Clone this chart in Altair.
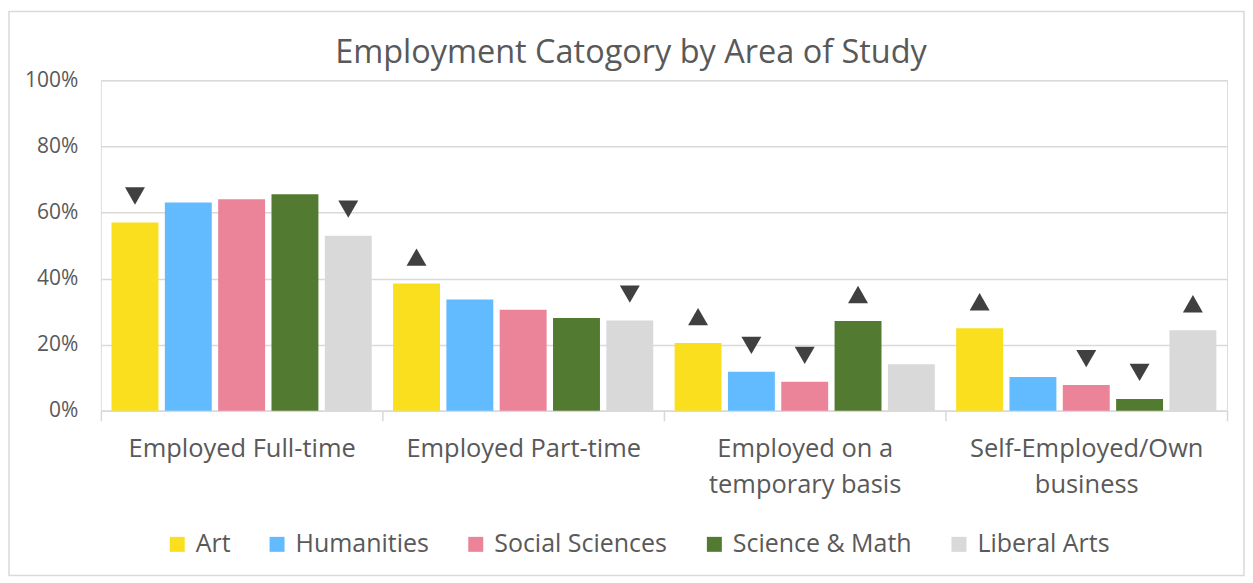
import altair as alt
import pandas as pd

categories = ["Employed Full-time", "Employed Part-time",
              "Employed on a temporary basis", "Self-Employed/Own business"]
series = ["Art", "Humanities", "Social Sciences", "Science & Math", "Liberal Arts"]

art = [57.0, 38.5, 20.5, 25.0]
humanities = [63.0, 33.7, 11.8, 10.2]
social_sciences = [64.0, 30.6, 8.8, 7.8]
science_math = [65.5, 28.1, 27.2, 3.6]
liberal_arts = [53.0, 27.3, 14.1, 24.4]

art_arrow = ["down", "up", "up", "up"]
humanities_arrow = ["", "", "down", ""]
social_sciences_arrow = ["", "", "down", "down"]
science_math_arrow = ["", "", "up", "down"]
liberal_arts_arrow = ["down", "down", "", "up"]

y_ticks = [0, 20, 40, 60, 80, 100]
colors = ["#F9DF1E", "#63BBFF", "#EB8399", "#537A31", "#D9D9D9"]

values = [art, humanities, social_sciences, science_math, liberal_arts]
arrows = [art_arrow, humanities_arrow, social_sciences_arrow, science_math_arrow, liberal_arts_arrow]
rows = []
for s, vals, arr in zip(series, values, arrows):
    for c, v, a in zip(categories, vals, arr):
        rows.append({"category": c, "series": s, "value": v, "arrow": a})
df = pd.DataFrame(rows)

FONT = "Open Sans"
TXT = "#595959"
GRID = "#D9D9D9"
W, H = 1128, 331

x_enc = alt.X("category:N", sort=categories, title=None,
              scale=alt.Scale(paddingInner=0, paddingOuter=0),
              axis=alt.Axis(labelAngle=0, labelFontSize=25.5, labelFont=FONT, labelColor=TXT,
                            labelLineHeight=36, labelPadding=16, labelLimit=400,
                            tickBand="extent", tickColor=GRID, tickSize=10, tickWidth=1.5,
                            domainColor=GRID, domainWidth=1.5, grid=False,
                            labelExpr="datum.label == 'Employed on a temporary basis' ? ['Employed on a', 'temporary basis'] : datum.label == 'Self-Employed/Own business' ? ['Self-Employed/Own', 'business'] : datum.label"))
xo_enc = alt.XOffset("series:N", sort=series,
                     scale=alt.Scale(paddingInner=0.12, paddingOuter=0.2))
y_scale = alt.Scale(domain=[0, 100], nice=False)

bars = alt.Chart(df).mark_bar().encode(
    x=x_enc,
    xOffset=xo_enc,
    y=alt.Y("value:Q", scale=y_scale, title=None,
            axis=alt.Axis(values=y_ticks, labelExpr="datum.value + '%'", labelFontSize=21,
                          labelFont=FONT, labelColor=TXT, ticks=False, domain=False,
                          labelPadding=23, gridColor=GRID, gridWidth=1.5)),
    color=alt.Color("series:N", sort=series,
                    scale=alt.Scale(domain=series, range=colors),
                    legend=alt.Legend(title=None, orient="none", direction="horizontal",
                                      legendX=64, legendY=452, symbolType="square",
                                      symbolSize=225, symbolStrokeWidth=0, labelFontSize=25,
                                      labelFont=FONT, labelColor=TXT, labelOffset=6,
                                      columnPadding=34, labelLimit=400)),
)

markers = alt.Chart(df).transform_filter(
    "datum.arrow != ''"
).transform_calculate(
    marker_y="datum.value + 8"
).mark_point(filled=True, size=400, opacity=1, color="#404040").encode(
    x=alt.X("category:N", sort=categories),
    xOffset=alt.XOffset("series:N", sort=series),
    y=alt.Y("marker_y:Q", scale=y_scale),
    shape=alt.Shape("arrow:N", scale=alt.Scale(domain=["up", "down"],
                                               range=["triangle-up", "triangle-down"]),
                    legend=None),
)

frame = alt.Chart(pd.DataFrame({"f": [0]})).mark_rect(
    fill="transparent", stroke=GRID, strokeWidth=1.5
).encode(x=alt.value(-92), x2=alt.value(W + 17), y=alt.value(-69), y2=alt.value(496))

chart = alt.layer(frame, bars, markers).properties(
    width=W, height=H,
    padding={"left": 0, "top": 2, "right": 0, "bottom": 0},
    title=alt.TitleParams("Employment Catogory by Area of Study", fontSize=32.5, font=FONT,
                          color=TXT, fontWeight="normal", anchor="middle", dx=-33,
                          baseline="alphabetic", offset=-85),
).configure_view(stroke=None).configure(background="white")

chart.save("out.html", embed_options={"renderer": "svg", "actions": False})
